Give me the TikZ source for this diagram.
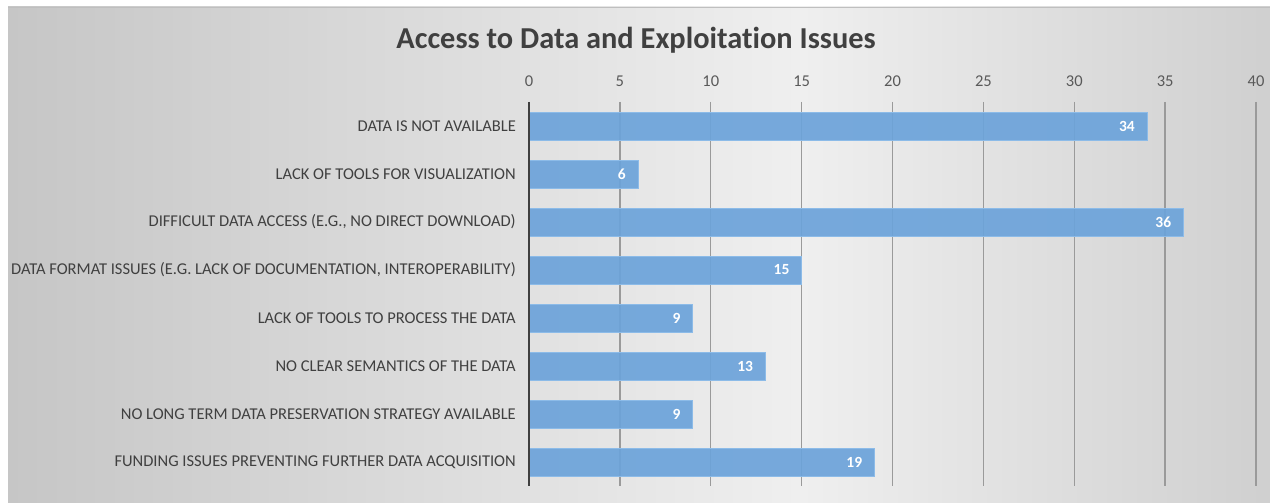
\documentclass[tikz,border=0pt]{standalone}
\usepackage{fontspec}
\setmainfont[Ligatures=NoCommon]{Carlito}
\definecolor{bgL}{HTML}{C6C6C6}
\definecolor{bgM}{HTML}{EFEFEF}
\definecolor{bgR}{HTML}{BABABA}
\definecolor{txt}{HTML}{404040}
\definecolor{tick}{HTML}{595959}
\definecolor{grid}{HTML}{9A9A9A}
\definecolor{barfill}{HTML}{6CA3DA}
\definecolor{barline}{HTML}{8CBBE8}
\tikzset{
  catlabel/.style={anchor=east, inner sep=0pt, text=txt, font=\fontsize{16.5}{17}\selectfont},
  ticklabel/.style={inner sep=0pt, text=tick, font=\fontsize{16.5}{17}\selectfont},
  barbox/.style={anchor=west, inner sep=0pt, outer sep=0pt, minimum height=28pt, fill=barfill, fill opacity=0.92, draw=barline, line width=0.8pt},
  vallabel/.style={anchor=east, inner sep=0pt, text=white, font=\fontsize{15.5}{16}\selectfont\bfseries},
  gridline/.style={draw=grid, line width=1.3pt},
  axisline/.style={draw=txt, line width=2pt}
}
\begin{document}
\begin{tikzpicture}[x=1pt,y=-1pt]
\useasboundingbox (0,0) rectangle (1270,503);
\fill[white] (0,0) rectangle (1270,503);
\begin{scope}
  \clip (8,7) rectangle (1270,503);
  \shade[left color=bgL, right color=bgR, middle color=bgM] (8,7) rectangle (1592,503);
\end{scope}
\draw[draw=black!25, line width=0.8pt] (8,7) -- (1270,7);
\node[inner sep=0pt, text=txt, font=\fontsize{30.4}{31}\selectfont\bfseries] (title) at (636,40) {Access to Data and Exploitation Issues};
% ticks and grid
\foreach \v in {0,5,...,40} {
  \node[ticklabel] (t\v) at ({529+\v*18.175},81) {\v};
}
\foreach \v in {5,10,...,40} {
  \coordinate (gt\v) at ({529+\v*18.175},102);
  \coordinate (gb\v) at ({529+\v*18.175},486);
  \draw[gridline] (gt\v) -- (gb\v);
}
% bars
\foreach \i/\val/\lab in {
  1/34/{DATA IS NOT AVAILABLE},
  2/6/{LACK OF TOOLS FOR VISUALIZATION},
  3/36/{DIFFICULT DATA ACCESS (E.G., NO DIRECT DOWNLOAD)},
  4/15/{DATA FORMAT ISSUES (E.G. LACK OF DOCUMENTATION, INTEROPERABILITY)},
  5/9/{LACK OF TOOLS TO PROCESS THE DATA},
  6/13/{NO CLEAR SEMANTICS OF THE DATA},
  7/9/{NO LONG TERM DATA PRESERVATION STRATEGY AVAILABLE},
  8/19/{FUNDING ISSUES PREVENTING FURTHER DATA ACQUISITION}} {
  \node[barbox, minimum width={\val*18.175pt}] (b\i) at (529,{78+48*\i}) {};
  \node[vallabel] (v\i) at ([xshift=-12pt]b\i.east) {\val};
  \node[catlabel] (c\i) at (516,{78+48*\i}) {\lab};
}
\coordinate (axt) at (529,102);
\coordinate (axb) at (529,486);
\draw[axisline] (axt) -- (axb);
\end{tikzpicture}
\end{document}
